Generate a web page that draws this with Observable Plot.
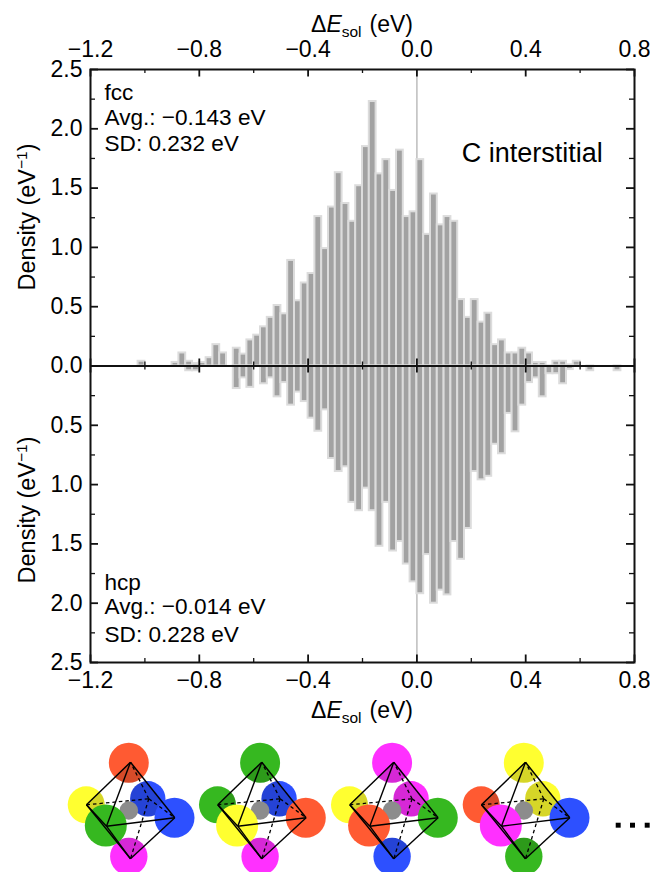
<!DOCTYPE html>
<html>
<head>
<meta charset="utf-8">
<script src="https://cdn.jsdelivr.net/npm/d3@7"></script>
<script src="https://cdn.jsdelivr.net/npm/@observablehq/plot@0.6"></script>
<style>
html,body{margin:0;padding:0;background:#fff;width:650px;height:872px;overflow:hidden}
svg{display:block;background:#fff;max-width:none}
</style>
</head>
<body>
<div id="chart"></div>
<div id="sketch"></div>
<script>
const FONT = '"Liberation Sans", Arial, sans-serif';

// ---- histogram data: bin left edge = firstBin + i * binWidth ----
const firstBin = -1.025;
const binWidth = 0.025;
const fccDensity = [
  0.04, 0, 0, 0, 0,
  0.03, 0.11, 0.04, 0.02, 0.03, 0.07, 0.18, 0.11, 0, 0.15,
  0.10, 0.22, 0.26, 0.33, 0.41, 0.51, 0.44, 0.89, 0.55, 0.70,
  0.78, 1.26, 0.99, 1.34, 1.63, 1.37, 1.22, 1.52, 1.85, 2.23,
  1.62, 1.74, 1.48, 1.82, 1.26, 1.30,
  1.74, 1.11, 1.45, 1.19, 1.26, 1.22,
  0.56, 0.41, 0.56, 0.37, 0.445, 0.18, 0.22, 0.11, 0.11, 0.15, 0.11,
  0.03, 0.03, 0, 0.04, 0.04, 0.01, 0.04, 0, 0, 0, 0, 0, 0
];
const hcpDensity = [
  0, 0, 0, 0, 0,
  0, 0, 0.04, 0.04, 0, 0, 0, 0, 0,
  0.19, 0.10, 0.18, 0, 0.15, 0.10, 0.26, 0.14, 0.33, 0.22, 0.30,
  0.44, 0.55, 0.37, 0.78, 0.89, 0.85, 1.15, 1.22, 1.03, 1.22,
  1.52, 1.15, 1.56, 1.48, 1.67, 1.82,
  1.92, 1.59, 2.00, 1.89, 1.93, 1.48,
  1.63, 1.37, 0.89, 0.96, 0.93, 0.66, 0.74, 0.40, 0.555, 0.33, 0.14,
  0.10, 0.26, 0.065, 0.065, 0.15, 0.03, 0, 0, 0.04, 0, 0, 0, 0.04
];

// ---- axes ----
const xMajor = [-1.2, -0.8, -0.4, 0, 0.4, 0.8];
const xMinor = [-1.0, -0.6, -0.2, 0.2, 0.6];
const yMajor = [-2.5, -2, -1.5, -1, -0.5, 0, 0.5, 1, 1.5, 2, 2.5];
const yMinor = [-2.25, -1.75, -1.25, -0.75, -0.25, 0.25, 0.75, 1.25, 1.75, 2.25];

// ---- annotations (data coordinates) ----
const notes = [
  {text: "fcc", x: -1.1485, y: 2.24},
  {text: "Avg.: \u22120.143 eV", x: -1.1485, y: 2.035},
  {text: "SD: 0.232 eV", x: -1.1485, y: 1.815},
  {text: "hcp", x: -1.1485, y: -1.885},
  {text: "Avg.: \u22120.014 eV", x: -1.1485, y: -2.095},
  {text: "SD: 0.228 eV", x: -1.1485, y: -2.325}
];
const species = [{text: "C interstitial", x: 0.165, y: 1.72}];

const bars = (values, sign) =>
  values.map((d, i) => ({x1: firstBin + i * binWidth, x2: firstBin + (i + 1) * binWidth, y: sign * d}))
        .filter(d => d.y !== 0);

const H = 728, yPx = 118.4, xPx = 272;
const ink = "#111";
const plot = Plot.plot({
  width: 650, height: H,
  marginLeft: 90, marginRight: 16, marginTop: 69, marginBottom: 66,
  style: {fontFamily: FONT, background: "#fff", color: "#000"},
  x: {domain: [-1.2, 0.8], label: null},
  y: {domain: [-2.5, 2.5], label: null},
  marks: [
    Plot.ruleX([0], {stroke: "#b8b8b8", strokeWidth: 1.4}),
    Plot.rectY(bars(fccDensity, 1), {x1: "x1", x2: "x2", y1: 0, y2: "y", fill: "#a2a2a2", stroke: "#dcdcdc", strokeWidth: 2}),
    Plot.rectY(bars(hcpDensity, -1), {x1: "x1", x2: "x2", y1: 0, y2: "y", fill: "#a2a2a2", stroke: "#dcdcdc", strokeWidth: 2}),
    Plot.ruleY([0], {stroke: ink, strokeWidth: 2}),
    // x ticks, pointing inward at the frame and crossing the zero line
    Plot.ruleX(xMajor, {y1: 2.5, y2: 2.5 - 7.5 / yPx, stroke: ink, strokeWidth: 1.8}),
    Plot.ruleX(xMinor, {y1: 2.5, y2: 2.5 - 4 / yPx, stroke: ink, strokeWidth: 1.3}),
    Plot.ruleX(xMajor, {y1: -2.5, y2: -2.5 + 7.5 / yPx, stroke: ink, strokeWidth: 1.8}),
    Plot.ruleX(xMinor, {y1: -2.5, y2: -2.5 + 4 / yPx, stroke: ink, strokeWidth: 1.3}),
    Plot.ruleX(xMajor, {y1: 7 / yPx, y2: -7 / yPx, stroke: ink, strokeWidth: 1.8}),
    Plot.ruleX(xMinor, {y1: 4 / yPx, y2: -4 / yPx, stroke: ink, strokeWidth: 1.3}),
    // y ticks
    Plot.ruleY(yMajor, {x1: -1.2, x2: -1.2 + 8 / xPx, stroke: ink, strokeWidth: 1.8}),
    Plot.ruleY(yMinor, {x1: -1.2, x2: -1.2 + 5 / xPx, stroke: ink, strokeWidth: 1.3}),
    Plot.ruleY(yMajor, {x1: 0.8, x2: 0.8 - 8 / xPx, stroke: ink, strokeWidth: 1.8}),
    Plot.ruleY(yMinor, {x1: 0.8, x2: 0.8 - 5 / xPx, stroke: ink, strokeWidth: 1.3}),
    // tick labels
    Plot.axisX({anchor: "top", ticks: xMajor, tickSize: 0, tickPadding: 13, fontSize: 23, label: null, tickFormat: d3.format(".1f")}),
    Plot.axisX({anchor: "bottom", ticks: xMajor, tickSize: 0, tickPadding: 9, fontSize: 23, label: null, tickFormat: d3.format(".1f")}),
    Plot.axisY({anchor: "left", ticks: yMajor, tickSize: 0, tickPadding: 8, fontSize: 23, label: null, tickFormat: d => d3.format(".1f")(Math.abs(d))}),
    Plot.frame({stroke: ink, strokeWidth: 2}),
    Plot.text(notes, {x: "x", y: "y", text: "text", textAnchor: "start", lineAnchor: "bottom", fontSize: 22.6, fill: "#000"}),
    Plot.text(species, {x: "x", y: "y", text: "text", textAnchor: "start", lineAnchor: "bottom", fontSize: 27, fill: "#000"})
  ]
});

// axis titles need italics, subscripts and superscripts: real SVG text with tspans
const svg = d3.select(plot);
function xTitle(baseline) {
  const t = svg.append("text").attr("x", 311).attr("y", baseline).attr("text-anchor", "start")
    .attr("font-family", FONT).attr("font-size", 23).attr("fill", "#000");
  t.append("tspan").text("\u0394");
  t.append("tspan").attr("font-style", "italic").text("E");
  t.append("tspan").attr("font-size", 15.5).attr("dy", 5).text("sol");
  t.append("tspan").attr("dy", -5).attr("dx", 8).text("(eV)");
}
function yTitle(center) {
  const t = svg.append("text").attr("transform", `translate(35,${center}) rotate(-90)`)
    .attr("text-anchor", "middle").attr("font-family", FONT).attr("font-size", 23.5).attr("fill", "#000");
  t.append("tspan").text("Density (eV");
  t.append("tspan").attr("font-size", 15.5).attr("dy", -8).text("\u22121");
  t.append("tspan").attr("dy", 8).text(")");
}
xTitle(31.5); xTitle(717.5);
yTitle(217); yTitle(510);
document.getElementById("chart").append(plot);

// ---- octahedral-site sketches ----
const colors = {R: "#ff5a32", Y: "#ffff30", G: "#36b820", B: "#2d50ff", M: "#ff30ff", C: "#8c8c8c"};
const panelShift = [0, 131.3, 263.3, 395];
// site: atom centre, atom radius, octahedron vertex (sketch units relative to the first panel)
const atomX = {left: 85.7, back: 147.3, bottom: 128.3, top: 128.3, right: 174, front: 105.3};
const atomY = {left: 804.3, back: 798.3, bottom: 856, top: 762.3, right: 817.3, front: 825};
const atomR = {left: 18.5, back: 17.7, bottom: 18.7, top: 20, right: 20, front: 21};
const vertX = {left: 86, back: 148.3, bottom: 130, top: 130, right: 174.3, front: 106};
const vertY = {left: 804.3, back: 798.3, bottom: 858.3, top: 761.7, right: 817.3, front: 825.7};
const panelColors = [
  {top: "R", left: "Y", back: "B", right: "B", front: "G", bottom: "M"},
  {top: "G", left: "G", back: "B", right: "R", front: "Y", bottom: "M"},
  {top: "M", left: "Y", back: "M", right: "G", front: "R", bottom: "B"},
  {top: "Y", left: "R", back: "Y", right: "B", front: "M", bottom: "G"}
];
const solidEdges = [["top","left"],["top","right"],["top","front"],["left","front"],["front","right"],["left","bottom"],["right","bottom"],["front","bottom"]];
const dashedEdges = [["left","back"],["back","right"],["back","top"],["back","bottom"]];
const centreAtom = {x: 128.3, y: 810, r: 9.3};
const ellipsisX = [617.7, 632, 646.7];
const ellipsisY = 824.7;

const edgeRows = (edges, dx) => edges.map(([a, b]) => ({x1: vertX[a] + dx, y1: vertY[a], x2: vertX[b] + dx, y2: vertY[b]}));
const atomRows = (p, names) => names.map(n => ({x: atomX[n] + panelShift[p], y: atomY[n], r: atomR[n], c: colors[panelColors[p][n]]}));

// Back atoms get a faint shadow only where they sit inside the octahedron silhouette.
const clipToOcta = p => (index, scales, values, dims, ctx, next) => {
  const g = next(index, scales, values, dims, ctx);
  const pts = ["top", "right", "bottom", "left"]
    .map(n => [scales.x(vertX[n] + panelShift[p]), scales.y(vertY[n])].join(",")).join(" ");
  const ns = "http://www.w3.org/2000/svg";
  const clip = document.createElementNS(ns, "clipPath");
  clip.setAttribute("id", "octa" + p);
  const poly = document.createElementNS(ns, "polygon");
  poly.setAttribute("points", pts);
  clip.append(poly);
  const wrap = document.createElementNS(ns, "g");
  wrap.setAttribute("clip-path", `url(#octa${p})`);
  wrap.append(clip, g);
  return wrap;
};

const atomMarks = panelShift.flatMap((dx, p) => [
  Plot.dot(atomRows(p, ["left", "back", "bottom", "top"]), {x: "x", y: "y", r: "r", fill: "c", sort: null}),
  Plot.dot(atomRows(p, ["left", "back", "bottom", "top"]), {x: "x", y: "y", r: "r", fill: "#000", fillOpacity: 0.16, sort: null, render: clipToOcta(p)}),
  Plot.dot([{x: centreAtom.x + dx, y: centreAtom.y, r: centreAtom.r}], {x: "x", y: "y", r: "r", fill: colors.C, sort: null}),
  Plot.dot(atomRows(p, ["right", "front"]), {x: "x", y: "y", r: "r", fill: "c", sort: null}),
  Plot.link(edgeRows(dashedEdges, dx), {x1: "x1", y1: "y1", x2: "x2", y2: "y2", stroke: "#000", strokeWidth: 1.3, strokeDasharray: "3.5,3"}),
  Plot.link(edgeRows(solidEdges, dx), {x1: "x1", y1: "y1", x2: "x2", y2: "y2", stroke: "#000", strokeWidth: 1.4})
]);

const sketch = Plot.plot({
  width: 650, height: 872 - H, margin: 0,
  style: {background: "#fff"},
  x: {domain: [0, 650], range: [0, 650], axis: null},
  y: {domain: [H, 872], range: [0, 872 - H], axis: null},
  r: {type: "identity"},
  color: {type: "identity"},
  marks: [
    ...atomMarks,
    Plot.dot(ellipsisX, {x: d => d, y: () => ellipsisY, symbol: "square", r: 2.8, fill: "#000"})
  ]
});
document.getElementById("sketch").append(sketch);
</script>
</body>
</html>
